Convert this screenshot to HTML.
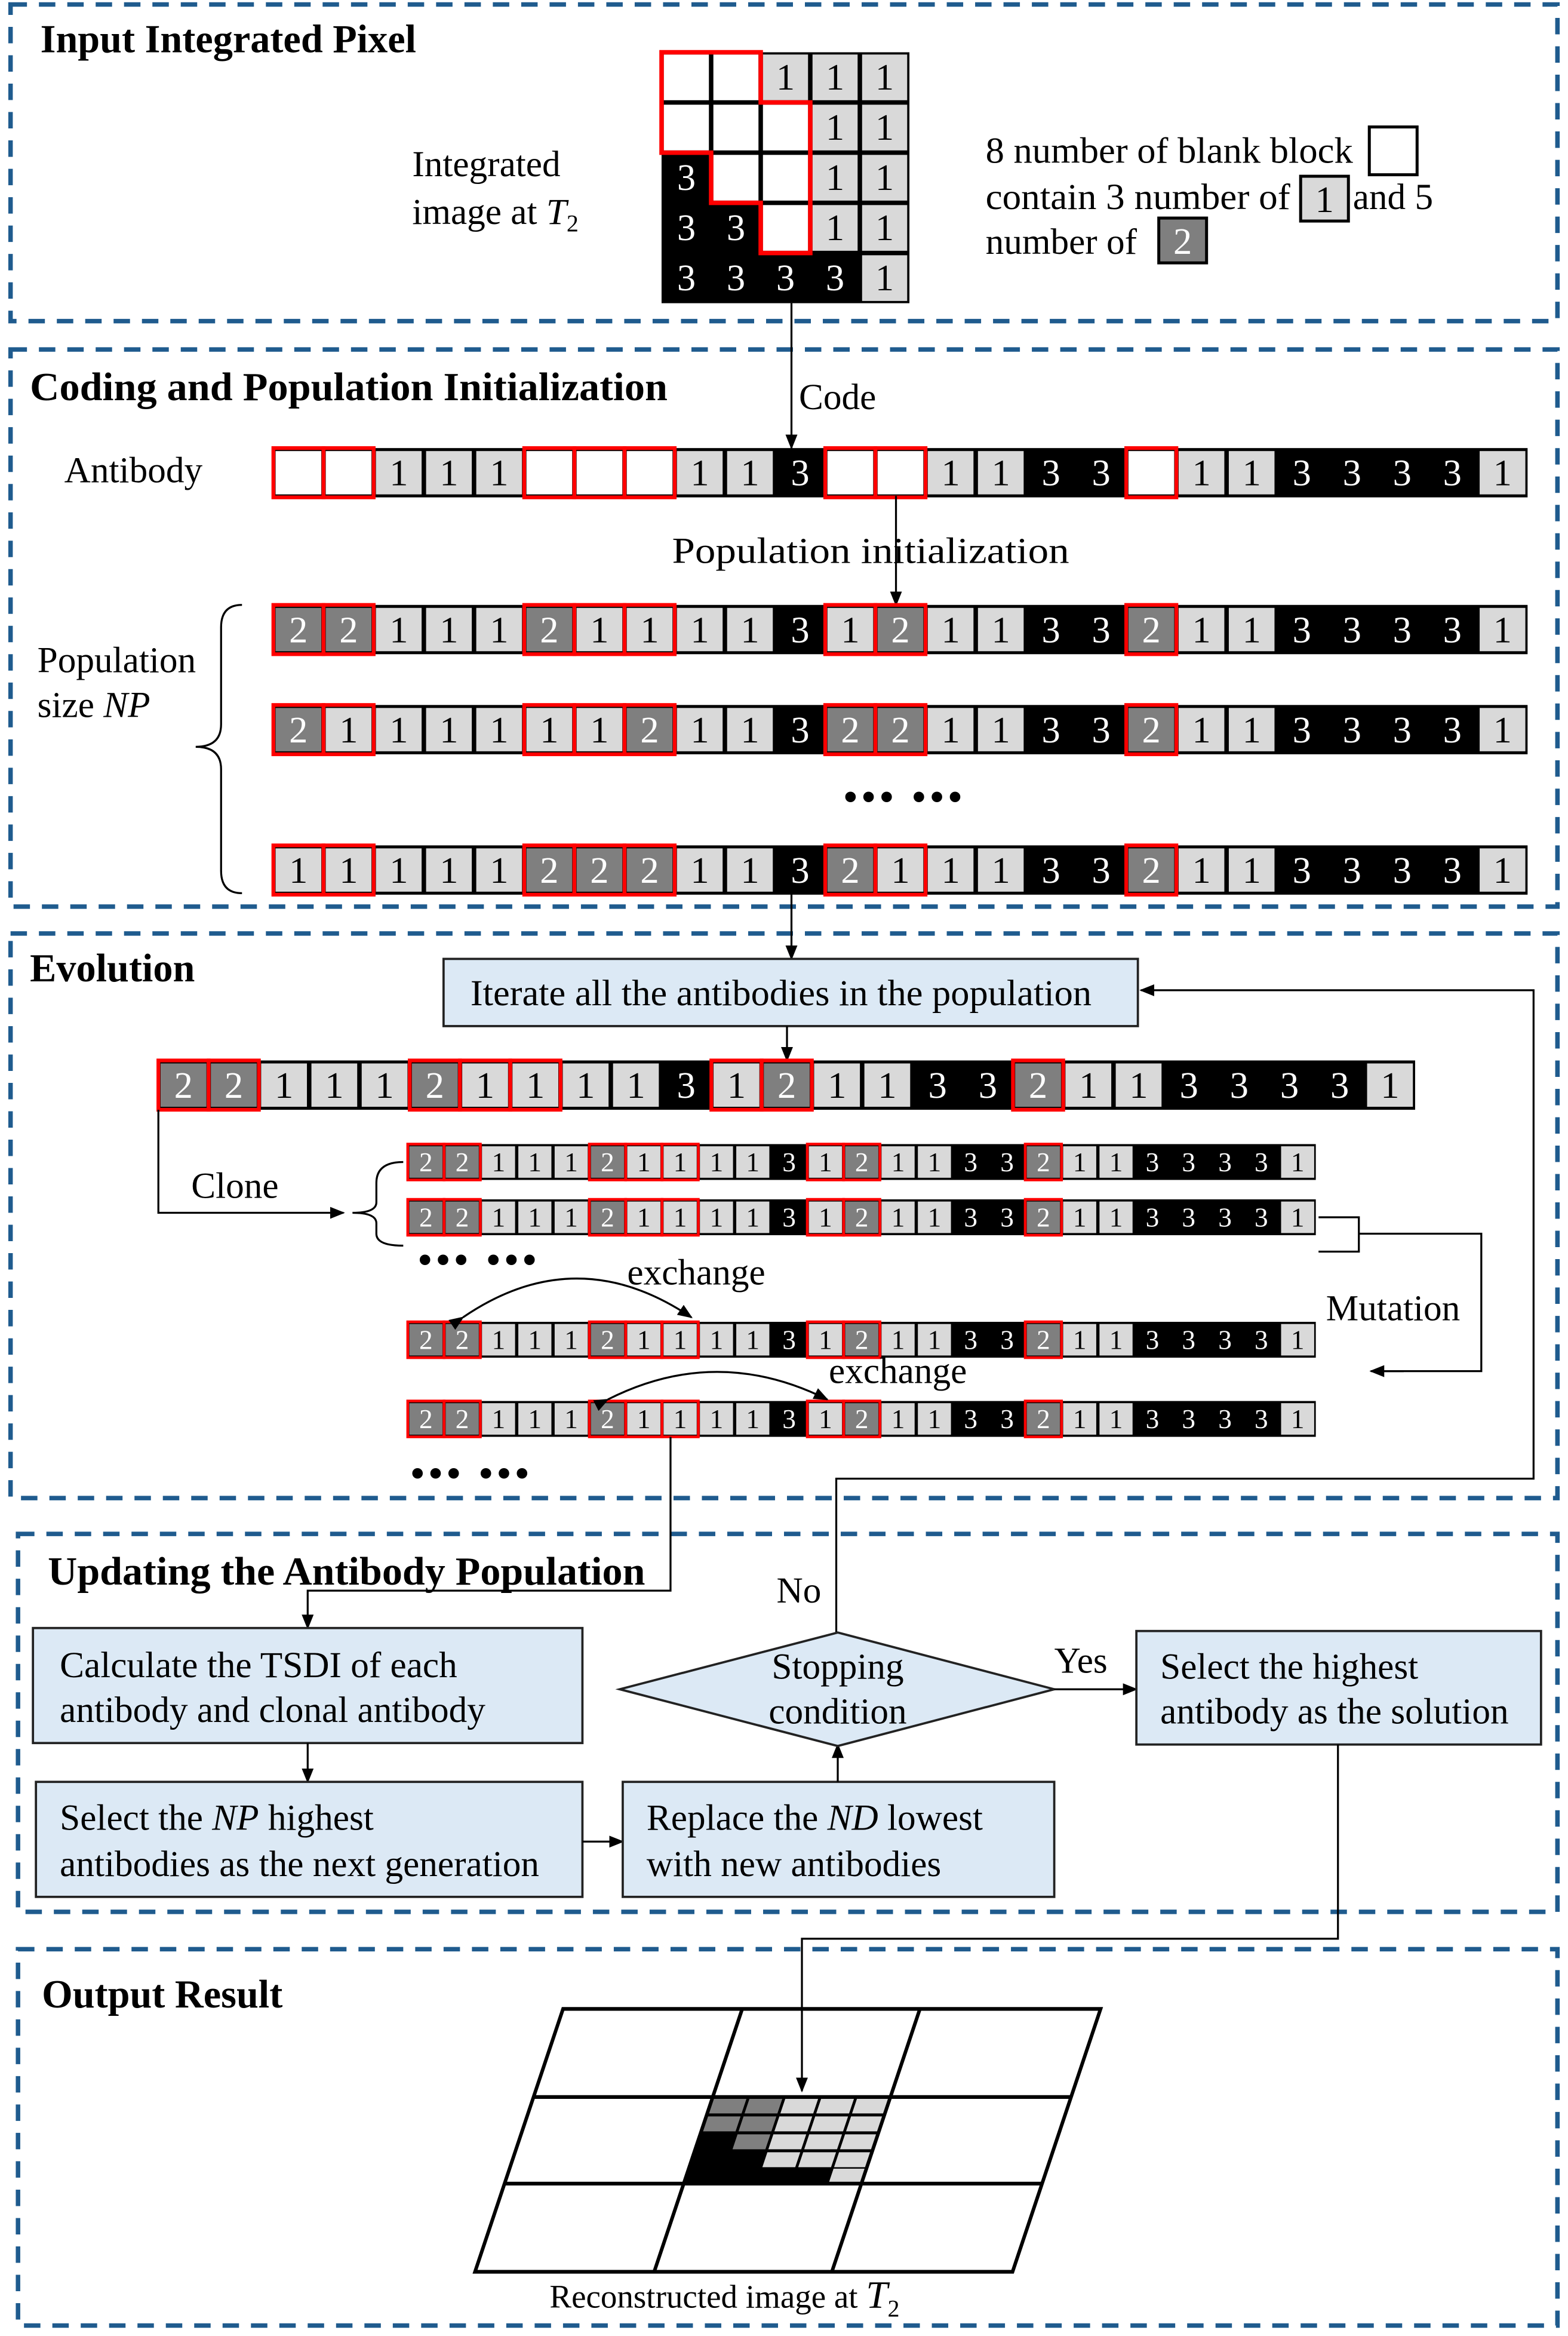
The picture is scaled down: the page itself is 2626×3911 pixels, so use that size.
<!DOCTYPE html>
<html><head><meta charset="utf-8"><style>
html,body{margin:0;padding:0;background:#fff}
svg{display:block}
text{font-family:"Liberation Serif",serif;fill:#000}
.n{font-size:25px;text-anchor:middle}
.w{fill:#fff}
.b{font-weight:bold;font-size:26.5px}
.t{font-size:24.5px}
rect.c{width:30.6px;height:29px;y:2px}
.L{fill:#d9d9d9}.D{fill:#7f7f7f}.W{fill:#fff}
rect.r{fill:none;stroke:#f00;stroke-width:2.5;width:33.6px;height:33px;y:0}
.sec{fill:none;stroke:#1f5b8e;stroke-width:3;stroke-dasharray:11 8}
.ln{fill:none;stroke:#000;stroke-width:1.3}
.box{fill:#dce9f5;stroke:#222;stroke-width:1.5}
.dots{font-size:26px;font-weight:bold;letter-spacing:3px}
</style></head><body>
<svg width="2626" height="3911" viewBox="0 0 1050 1564" xmlns="http://www.w3.org/2000/svg">
<defs><marker id="ar" markerWidth="10" markerHeight="10" refX="9" refY="5" orient="auto" markerUnits="userSpaceOnUse"><path d="M0,1 L10,5 L0,9 z" fill="#000"/></marker></defs>

<rect class="sec" x="7" y="3" width="1036" height="212"/>
<rect class="sec" x="7" y="234" width="1036" height="373"/>
<rect class="sec" x="7" y="625" width="1036" height="378"/>
<rect class="sec" x="12" y="1027" width="1031" height="253"/>
<rect class="sec" x="12" y="1305" width="1031" height="252"/>

<!-- Section 1 -->
<text class="b" x="27" y="35">Input Integrated Pixel</text>
<text class="t" x="276" y="118">Integrated</text>
<text class="t" x="276" y="150">image at <tspan font-style="italic">T</tspan><tspan font-size="16" dy="5">2</tspan></text>
<rect x="443" y="35" width="166" height="168" fill="#000"/>
<g>
<rect x="444.5" y="36.5" width="30.2" height="30.6" fill="#fff"/><rect x="477.7" y="36.5" width="30.2" height="30.6" fill="#fff"/>
<rect x="510.9" y="36.5" width="30.2" height="30.6" class="L"/><rect x="544.1" y="36.5" width="30.2" height="30.6" class="L"/><rect x="577.3" y="36.5" width="30.2" height="30.6" class="L"/>
<rect x="444.5" y="70.1" width="30.2" height="30.6" fill="#fff"/><rect x="477.7" y="70.1" width="30.2" height="30.6" fill="#fff"/><rect x="510.9" y="70.1" width="30.2" height="30.6" fill="#fff"/>
<rect x="544.1" y="70.1" width="30.2" height="30.6" class="L"/><rect x="577.3" y="70.1" width="30.2" height="30.6" class="L"/>
<rect x="477.7" y="103.7" width="30.2" height="30.6" fill="#fff"/><rect x="510.9" y="103.7" width="30.2" height="30.6" fill="#fff"/>
<rect x="544.1" y="103.7" width="30.2" height="30.6" class="L"/><rect x="577.3" y="103.7" width="30.2" height="30.6" class="L"/>
<rect x="510.9" y="137.3" width="30.2" height="30.6" fill="#fff"/>
<rect x="544.1" y="137.3" width="30.2" height="30.6" class="L"/><rect x="577.3" y="137.3" width="30.2" height="30.6" class="L"/>
<rect x="577.3" y="170.9" width="30.2" height="30.6" class="L"/>
</g>
<text class="n" x="526 559.2 592.4" y="60">111</text>
<text class="n" x="559.2 592.4" y="93.6">11</text>
<text class="n" x="559.2 592.4" y="127.2">11</text>
<text class="n" x="559.2 592.4" y="160.8">11</text>
<text class="n" x="592.4" y="194.4">1</text>
<text class="n w" x="459.6" y="127.2">3</text>
<text class="n w" x="459.6 492.8" y="160.8">33</text>
<text class="n w" x="459.6 492.8 526 559.2" y="194.4">3333</text>
<path d="M443,35 H509.4 V68.6 H542.6 V169.4 H509.4 V135.8 H476.2 V102.2 H443 Z" fill="none" stroke="#f00" stroke-width="3"/>

<text class="t" x="660" y="109" textLength="246" lengthAdjust="spacingAndGlyphs">8 number of blank block</text>
<rect x="917" y="85" width="32" height="32" fill="#fff" stroke="#000" stroke-width="2"/>
<text class="t" x="660" y="140" textLength="204" lengthAdjust="spacingAndGlyphs">contain 3 number of</text>
<rect x="871" y="118" width="32" height="30" class="L" stroke="#000" stroke-width="2"/>
<text class="n" x="887" y="142">1</text>
<text class="t" x="906" y="140">and 5</text>
<text class="t" x="660" y="170">number of</text>
<rect x="776" y="146" width="32" height="30" class="D" stroke="#000" stroke-width="2"/>
<text class="n w" x="792" y="170">2</text>

<!-- Section 2 -->
<text class="b" x="20" y="268" textLength="427" lengthAdjust="spacingAndGlyphs">Coding and Population Initialization</text>
<line class="ln" x1="530" y1="203" x2="530" y2="300" marker-end="url(#ar)"/>
<text class="t" x="535" y="274">Code</text>
<text class="t" x="43" y="323">Antibody</text>

<g transform="translate(183,300)">
<rect width="840" height="33" fill="#000"/>
<rect class="c L" x="68.7"/><rect class="c L" x="102.3"/><rect class="c L" x="135.9"/><rect class="c L" x="270.3"/><rect class="c L" x="303.9"/><rect class="c L" x="438.3"/><rect class="c L" x="471.9"/><rect class="c L" x="606.3"/><rect class="c L" x="639.9"/><rect class="c L" x="807.9"/>
<rect class="c W" x="1.5"/><rect class="c W" x="35.1"/><rect class="c W" x="169.5"/><rect class="c W" x="203.1"/><rect class="c W" x="236.7"/><rect class="c W" x="371.1"/><rect class="c W" x="404.7"/><rect class="c W" x="572.7"/>
<text class="n" x="84 117.6 151.2 285.6 319.2 453.6 487.2 621.6 655.2 823.2" y="25">1111111111</text>
<text class="n w" x="352.8 520.8 554.4 688.8 722.4 756 789.6" y="25">3333333</text>
<rect class="r" x="0"/><rect class="r" x="33.6"/><rect class="r" x="168"/><rect class="r" x="201.6"/><rect class="r" x="235.2"/><rect class="r" x="369.6"/><rect class="r" x="403.2"/><rect class="r" x="571.2"/>
</g>

<text class="t" x="450" y="377" textLength="266" lengthAdjust="spacingAndGlyphs">Population initialization</text>
<line class="ln" x1="600" y1="332" x2="600" y2="405" marker-end="url(#ar)"/>
<text class="t" x="25" y="450">Population</text>
<text class="t" x="25" y="480">size <tspan font-style="italic">NP</tspan></text>
<path class="ln" d="M162,405 Q148,405 148,420 L148,485 Q148,500 131,500 Q148,500 148,515 L148,583 Q148,598 162,598"/>

<g transform="translate(183,405)">
<rect width="840" height="33" fill="#000"/>
<rect class="c L" x="68.7"/><rect class="c L" x="102.3"/><rect class="c L" x="135.9"/><rect class="c L" x="203.1"/><rect class="c L" x="236.7"/><rect class="c L" x="270.3"/><rect class="c L" x="303.9"/><rect class="c L" x="371.1"/><rect class="c L" x="438.3"/><rect class="c L" x="471.9"/><rect class="c L" x="606.3"/><rect class="c L" x="639.9"/><rect class="c L" x="807.9"/>
<rect class="c D" x="1.5"/><rect class="c D" x="35.1"/><rect class="c D" x="169.5"/><rect class="c D" x="404.7"/><rect class="c D" x="572.7"/>
<text class="n" x="84 117.6 151.2 218.4 252 285.6 319.2 386.4 453.6 487.2 621.6 655.2 823.2" y="25">1111111111111</text>
<text class="n w" x="16.8 50.4 184.8 352.8 420 520.8 554.4 588 688.8 722.4 756 789.6" y="25">222323323333</text>
<rect class="r" x="0"/><rect class="r" x="33.6"/><rect class="r" x="168"/><rect class="r" x="201.6"/><rect class="r" x="235.2"/><rect class="r" x="369.6"/><rect class="r" x="403.2"/><rect class="r" x="571.2"/>
</g>
<g transform="translate(183,472)">
<rect width="840" height="33" fill="#000"/>
<rect class="c L" x="35.1"/><rect class="c L" x="68.7"/><rect class="c L" x="102.3"/><rect class="c L" x="135.9"/><rect class="c L" x="169.5"/><rect class="c L" x="203.1"/><rect class="c L" x="270.3"/><rect class="c L" x="303.9"/><rect class="c L" x="438.3"/><rect class="c L" x="471.9"/><rect class="c L" x="606.3"/><rect class="c L" x="639.9"/><rect class="c L" x="807.9"/>
<rect class="c D" x="1.5"/><rect class="c D" x="236.7"/><rect class="c D" x="371.1"/><rect class="c D" x="404.7"/><rect class="c D" x="572.7"/>
<text class="n" x="50.4 84 117.6 151.2 184.8 218.4 285.6 319.2 453.6 487.2 621.6 655.2 823.2" y="25">1111111111111</text>
<text class="n w" x="16.8 252 352.8 386.4 420 520.8 554.4 588 688.8 722.4 756 789.6" y="25">223223323333</text>
<rect class="r" x="0"/><rect class="r" x="33.6"/><rect class="r" x="168"/><rect class="r" x="201.6"/><rect class="r" x="235.2"/><rect class="r" x="369.6"/><rect class="r" x="403.2"/><rect class="r" x="571.2"/>
</g>
<text class="dots" x="565" y="542">••• •••</text>
<g transform="translate(183,566)">
<rect width="840" height="33" fill="#000"/>
<rect class="c L" x="1.5"/><rect class="c L" x="35.1"/><rect class="c L" x="68.7"/><rect class="c L" x="102.3"/><rect class="c L" x="135.9"/><rect class="c L" x="270.3"/><rect class="c L" x="303.9"/><rect class="c L" x="404.7"/><rect class="c L" x="438.3"/><rect class="c L" x="471.9"/><rect class="c L" x="606.3"/><rect class="c L" x="639.9"/><rect class="c L" x="807.9"/>
<rect class="c D" x="169.5"/><rect class="c D" x="203.1"/><rect class="c D" x="236.7"/><rect class="c D" x="371.1"/><rect class="c D" x="572.7"/>
<text class="n" x="16.8 50.4 84 117.6 151.2 285.6 319.2 420 453.6 487.2 621.6 655.2 823.2" y="25">1111111111111</text>
<text class="n w" x="184.8 218.4 252 352.8 386.4 520.8 554.4 588 688.8 722.4 756 789.6" y="25">222323323333</text>
<rect class="r" x="0"/><rect class="r" x="33.6"/><rect class="r" x="168"/><rect class="r" x="201.6"/><rect class="r" x="235.2"/><rect class="r" x="369.6"/><rect class="r" x="403.2"/><rect class="r" x="571.2"/>
</g>
<line class="ln" x1="530" y1="598" x2="530" y2="642" marker-end="url(#ar)"/>

<!-- Section 3 -->
<text class="b" x="20" y="657">Evolution</text>
<rect class="box" x="297" y="642" width="465" height="45"/>
<text class="t" x="315" y="673" textLength="416" lengthAdjust="spacingAndGlyphs">Iterate all the antibodies in the population</text>
<line class="ln" x1="527" y1="687" x2="527" y2="710" marker-end="url(#ar)"/>

<g transform="translate(106,710) scale(1.002,1)">
<rect width="840" height="33" fill="#000"/>
<rect class="c L" x="68.7"/><rect class="c L" x="102.3"/><rect class="c L" x="135.9"/><rect class="c L" x="203.1"/><rect class="c L" x="236.7"/><rect class="c L" x="270.3"/><rect class="c L" x="303.9"/><rect class="c L" x="371.1"/><rect class="c L" x="438.3"/><rect class="c L" x="471.9"/><rect class="c L" x="606.3"/><rect class="c L" x="639.9"/><rect class="c L" x="807.9"/>
<rect class="c D" x="1.5"/><rect class="c D" x="35.1"/><rect class="c D" x="169.5"/><rect class="c D" x="404.7"/><rect class="c D" x="572.7"/>
<text class="n" x="84 117.6 151.2 218.4 252 285.6 319.2 386.4 453.6 487.2 621.6 655.2 823.2" y="25">1111111111111</text>
<text class="n w" x="16.8 50.4 184.8 352.8 420 520.8 554.4 588 688.8 722.4 756 789.6" y="25">222323323333</text>
<rect class="r" x="0"/><rect class="r" x="33.6"/><rect class="r" x="168"/><rect class="r" x="201.6"/><rect class="r" x="235.2"/><rect class="r" x="369.6"/><rect class="r" x="403.2"/><rect class="r" x="571.2"/>
</g>

<g transform="translate(273,766) scale(0.724,0.727)">
<rect width="840" height="33" fill="#000"/>
<rect class="c L" x="68.7"/><rect class="c L" x="102.3"/><rect class="c L" x="135.9"/><rect class="c L" x="203.1"/><rect class="c L" x="236.7"/><rect class="c L" x="270.3"/><rect class="c L" x="303.9"/><rect class="c L" x="371.1"/><rect class="c L" x="438.3"/><rect class="c L" x="471.9"/><rect class="c L" x="606.3"/><rect class="c L" x="639.9"/><rect class="c L" x="807.9"/>
<rect class="c D" x="1.5"/><rect class="c D" x="35.1"/><rect class="c D" x="169.5"/><rect class="c D" x="404.7"/><rect class="c D" x="572.7"/>
<text class="n" x="84 117.6 151.2 218.4 252 285.6 319.2 386.4 453.6 487.2 621.6 655.2 823.2" y="25">1111111111111</text>
<text class="n w" x="16.8 50.4 184.8 352.8 420 520.8 554.4 588 688.8 722.4 756 789.6" y="25">222323323333</text>
<rect class="r" x="0"/><rect class="r" x="33.6"/><rect class="r" x="168"/><rect class="r" x="201.6"/><rect class="r" x="235.2"/><rect class="r" x="369.6"/><rect class="r" x="403.2"/><rect class="r" x="571.2"/>
</g>
<g transform="translate(273,803) scale(0.724,0.727)">
<rect width="840" height="33" fill="#000"/>
<rect class="c L" x="68.7"/><rect class="c L" x="102.3"/><rect class="c L" x="135.9"/><rect class="c L" x="203.1"/><rect class="c L" x="236.7"/><rect class="c L" x="270.3"/><rect class="c L" x="303.9"/><rect class="c L" x="371.1"/><rect class="c L" x="438.3"/><rect class="c L" x="471.9"/><rect class="c L" x="606.3"/><rect class="c L" x="639.9"/><rect class="c L" x="807.9"/>
<rect class="c D" x="1.5"/><rect class="c D" x="35.1"/><rect class="c D" x="169.5"/><rect class="c D" x="404.7"/><rect class="c D" x="572.7"/>
<text class="n" x="84 117.6 151.2 218.4 252 285.6 319.2 386.4 453.6 487.2 621.6 655.2 823.2" y="25">1111111111111</text>
<text class="n w" x="16.8 50.4 184.8 352.8 420 520.8 554.4 588 688.8 722.4 756 789.6" y="25">222323323333</text>
<rect class="r" x="0"/><rect class="r" x="33.6"/><rect class="r" x="168"/><rect class="r" x="201.6"/><rect class="r" x="235.2"/><rect class="r" x="369.6"/><rect class="r" x="403.2"/><rect class="r" x="571.2"/>
</g>
<g transform="translate(273,885) scale(0.724,0.727)">
<rect width="840" height="33" fill="#000"/>
<rect class="c L" x="68.7"/><rect class="c L" x="102.3"/><rect class="c L" x="135.9"/><rect class="c L" x="203.1"/><rect class="c L" x="236.7"/><rect class="c L" x="270.3"/><rect class="c L" x="303.9"/><rect class="c L" x="371.1"/><rect class="c L" x="438.3"/><rect class="c L" x="471.9"/><rect class="c L" x="606.3"/><rect class="c L" x="639.9"/><rect class="c L" x="807.9"/>
<rect class="c D" x="1.5"/><rect class="c D" x="35.1"/><rect class="c D" x="169.5"/><rect class="c D" x="404.7"/><rect class="c D" x="572.7"/>
<text class="n" x="84 117.6 151.2 218.4 252 285.6 319.2 386.4 453.6 487.2 621.6 655.2 823.2" y="25">1111111111111</text>
<text class="n w" x="16.8 50.4 184.8 352.8 420 520.8 554.4 588 688.8 722.4 756 789.6" y="25">222323323333</text>
<rect class="r" x="0"/><rect class="r" x="33.6"/><rect class="r" x="168"/><rect class="r" x="201.6"/><rect class="r" x="235.2"/><rect class="r" x="369.6"/><rect class="r" x="403.2"/><rect class="r" x="571.2"/>
</g>
<g transform="translate(273,938) scale(0.724,0.727)">
<rect width="840" height="33" fill="#000"/>
<rect class="c L" x="68.7"/><rect class="c L" x="102.3"/><rect class="c L" x="135.9"/><rect class="c L" x="203.1"/><rect class="c L" x="236.7"/><rect class="c L" x="270.3"/><rect class="c L" x="303.9"/><rect class="c L" x="371.1"/><rect class="c L" x="438.3"/><rect class="c L" x="471.9"/><rect class="c L" x="606.3"/><rect class="c L" x="639.9"/><rect class="c L" x="807.9"/>
<rect class="c D" x="1.5"/><rect class="c D" x="35.1"/><rect class="c D" x="169.5"/><rect class="c D" x="404.7"/><rect class="c D" x="572.7"/>
<text class="n" x="84 117.6 151.2 218.4 252 285.6 319.2 386.4 453.6 487.2 621.6 655.2 823.2" y="25">1111111111111</text>
<text class="n w" x="16.8 50.4 184.8 352.8 420 520.8 554.4 588 688.8 722.4 756 789.6" y="25">222323323333</text>
<rect class="r" x="0"/><rect class="r" x="33.6"/><rect class="r" x="168"/><rect class="r" x="201.6"/><rect class="r" x="235.2"/><rect class="r" x="369.6"/><rect class="r" x="403.2"/><rect class="r" x="571.2"/>
</g>

<path class="ln" d="M106,743 V812 H230" marker-end="url(#ar)"/>
<text class="t" x="128" y="802">Clone</text>
<path class="ln" d="M270,778 Q252,778 252,792 L252,805 Q252,812 236,812 Q252,812 252,819 L252,826 Q252,834 270,834"/>
<text class="dots" x="280" y="852" font-size="22">••• •••</text>
<text class="dots" x="275" y="995" font-size="22">••• •••</text>

<path class="ln" d="M310,882 Q386,830 463,882" marker-start="url(#ar)" marker-end="url(#ar)"/>
<text class="t" x="420" y="860">exchange</text>
<path class="ln" d="M407,937 Q480,900 554,937" marker-start="url(#ar)" marker-end="url(#ar)"/>
<text class="t" x="555" y="926">exchange</text>

<path class="ln" d="M883,815 H910 V838 H883 M910,826 H992 V918 H920" />
<line class="ln" x1="940" y1="918" x2="918" y2="918" marker-end="url(#ar)"/>
<text class="t" x="888" y="884">Mutation</text>

<path class="ln" d="M560,1093 V990 H1027 V663 H764" marker-end="url(#ar)"/>
<text class="t" x="520" y="1073">No</text>

<!-- Section 4 -->
<text class="b" x="32" y="1061" textLength="400" lengthAdjust="spacingAndGlyphs">Updating the Antibody Population</text>
<path class="ln" d="M449,962 V1065 H206 V1090" marker-end="url(#ar)"/>
<rect class="box" x="22" y="1090" width="368" height="77"/>
<text class="t" x="40" y="1123">Calculate the TSDI of each</text>
<text class="t" x="40" y="1153">antibody and clonal antibody</text>
<line class="ln" x1="206" y1="1167" x2="206" y2="1193" marker-end="url(#ar)"/>
<rect class="box" x="24" y="1193" width="366" height="77"/>
<text class="t" x="40" y="1225">Select the  <tspan font-style="italic">NP</tspan> highest</text>
<text class="t" x="40" y="1256">antibodies as the next generation</text>
<line class="ln" x1="390" y1="1233" x2="417" y2="1233" marker-end="url(#ar)"/>
<rect class="box" x="417" y="1193" width="289" height="77"/>
<text class="t" x="433" y="1225">Replace the  <tspan font-style="italic">ND</tspan>  lowest</text>
<text class="t" x="433" y="1256">with new antibodies</text>
<line class="ln" x1="561" y1="1193" x2="561" y2="1168" marker-end="url(#ar)"/>
<path class="box" d="M561,1093 L706,1131 L561,1169 L415,1131 Z"/>
<text class="t" x="561" y="1124" text-anchor="middle">Stopping</text>
<text class="t" x="561" y="1154" text-anchor="middle">condition</text>
<line class="ln" x1="706" y1="1131" x2="761" y2="1131" marker-end="url(#ar)"/>
<text class="t" x="706" y="1120">Yes</text>
<rect class="box" x="761" y="1092" width="271" height="76"/>
<text class="t" x="777" y="1124">Select the highest</text>
<text class="t" x="777" y="1154">antibody as the solution</text>

<!-- Section 5 -->
<text class="b" x="28" y="1344">Output Result</text>
<path class="ln" d="M896,1168 V1298 H537 V1400" marker-end="url(#ar)"/>
<g transform="matrix(1 0 -0.335 1 450.6 0)">
<rect x="497" y="1404" width="119" height="58" fill="#000"/>
<g fill="#7f7f7f">
<rect x="498" y="1405" width="22" height="10"/><rect x="522" y="1405" width="22" height="10"/>
<rect x="498" y="1417" width="22" height="10"/><rect x="522" y="1417" width="22" height="10"/>
<rect x="522" y="1429" width="22" height="10"/>
</g>
<g fill="#d9d9d9">
<rect x="546" y="1405" width="22" height="10"/><rect x="570" y="1405" width="22" height="10"/><rect x="594" y="1405" width="21" height="10"/>
<rect x="546" y="1417" width="22" height="10"/><rect x="570" y="1417" width="22" height="10"/><rect x="594" y="1417" width="21" height="10"/>
<rect x="546" y="1429" width="22" height="10"/><rect x="570" y="1429" width="22" height="10"/><rect x="594" y="1429" width="21" height="10"/>
<rect x="546" y="1441" width="22" height="10"/><rect x="570" y="1441" width="22" height="10"/><rect x="594" y="1441" width="21" height="10"/>
<rect x="594" y="1452" width="21" height="9"/>
</g>
<rect x="377" y="1345" width="360" height="176" fill="none" stroke="#000" stroke-width="2.5"/>
<path d="M497,1345 V1521 M616,1345 V1521 M377,1404 H737 M377,1462 H737" stroke="#000" stroke-width="2.5" fill="none"/>
</g>
<text x="368" y="1545" font-size="22">Reconstructed image at <tspan font-style="italic" font-size="26">T</tspan><tspan font-size="16" dy="6">2</tspan></text>
</svg>
</body></html>
